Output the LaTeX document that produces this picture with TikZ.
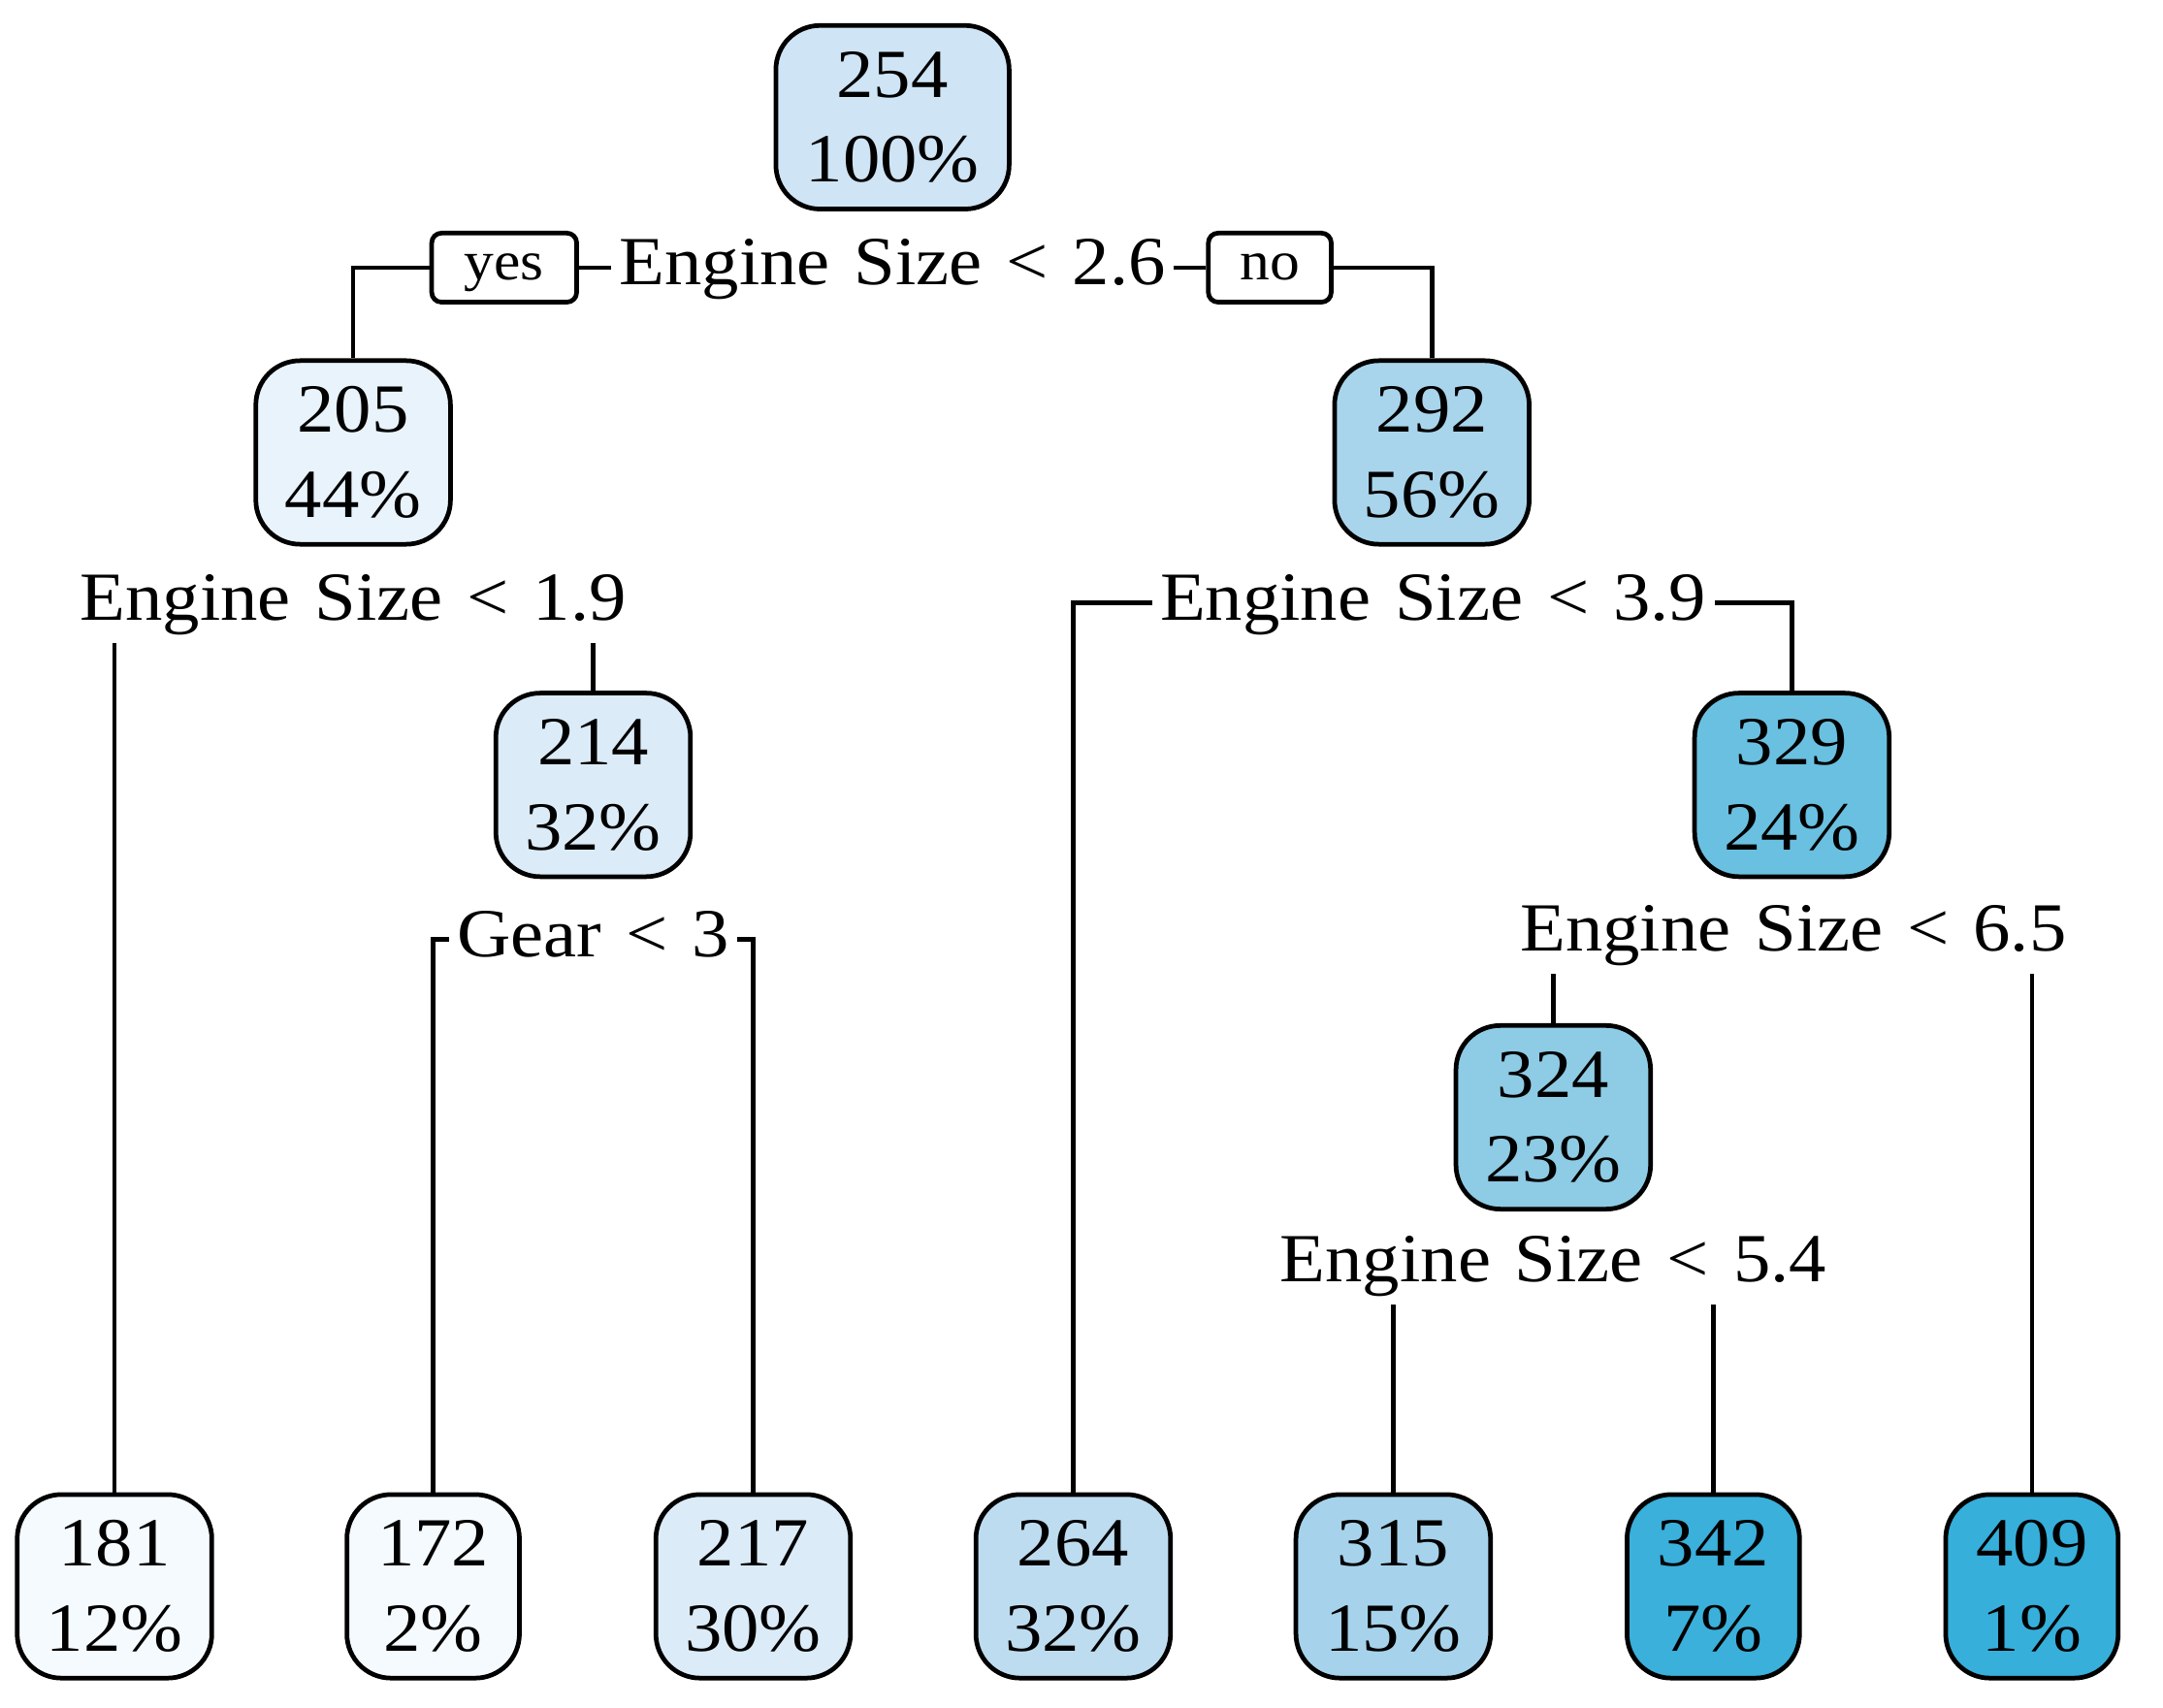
\documentclass[tikz,border=0pt]{standalone}
\usepackage{fontspec}
\setmainfont{Liberation Serif}[FakeStretch=1.08,WordSpace=1.3]
\definecolor{cA}{HTML}{F5FAFE}
\definecolor{cB}{HTML}{E9F3FB}
\definecolor{cC}{HTML}{DBEBF8}
\definecolor{cD}{HTML}{CFE4F5}
\definecolor{cE}{HTML}{BEDCF0}
\definecolor{cF}{HTML}{A9D5EC}
\definecolor{cG}{HTML}{A6D3EB}
\definecolor{cH}{HTML}{8ECBE5}
\definecolor{cI}{HTML}{6AC0E0}
\definecolor{cJ}{HTML}{3AB0DB}
\definecolor{cK}{HTML}{36AFDB}
\begin{document}
\begin{tikzpicture}[x=0.01cm,y=-0.01cm,
  box/.style={draw=black, line width=0.95pt, rounded corners=0.32cm,
    minimum height=1.33cm, minimum width=1.41cm, align=center, inner sep=0pt,
    font=\fontsize{14.2}{17.5}\selectfont},
  narrowbox/.style={box, minimum width=1.25cm},
  widebox/.style={box, minimum width=1.69cm},
  lbl/.style={font=\fontsize{14.2}{17}\selectfont, inner sep=1.5pt,
    text height=10pt, text depth=3pt},
  tag/.style={draw=black, line width=0.95pt, rounded corners=2pt, minimum height=0.5cm,
    font=\fontsize{11.4}{12}\selectfont, inner sep=0pt, text height=6pt, text depth=1pt},
  conn/.style={line width=0.95pt}]
\useasboundingbox (0,0) rectangle (1568,1238);

% nodes
\node[widebox, fill=cD] (n254) at (647,85) {254\\100\%};
\node[box, fill=cB] (n205) at (256,328) {205\\44\%};
\node[box, fill=cF] (n292) at (1038,328) {292\\56\%};
\node[box, fill=cC] (n214) at (430,569) {214\\32\%};
\node[box, fill=cI] (n329) at (1299,569) {329\\24\%};
\node[box, fill=cH] (n324) at (1126,810) {324\\23\%};
\node[box, fill=cA] (n181) at (83,1150) {181\\12\%};
\node[narrowbox, fill=cA] (n172) at (314,1150) {172\\2\%};
\node[box, fill=cC] (n217) at (546,1150) {217\\30\%};
\node[box, fill=cE] (n264) at (778,1150) {264\\32\%};
\node[box, fill=cG] (n315) at (1010,1150) {315\\15\%};
\node[narrowbox, fill=cJ] (n342) at (1242,1150) {342\\7\%};
\node[narrowbox, fill=cK] (n409) at (1473,1150) {409\\1\%};

% split labels
\node[lbl] (s1) at (647,194) {Engine Size < 2.6};
\node[lbl] (s2) at (256,437) {Engine Size < 1.9};
\node[lbl] (s3) at (1039,437) {Engine Size < 3.9};
\node[lbl] (s4) at (430,681) {Gear < 3};
\node[lbl] (s5) at (1300,677) {Engine Size < 6.5};
\node[lbl] (s6) at (1126,917) {Engine Size < 5.4};

% yes / no tags
\node[tag, minimum width=1.05cm] (yes) at (365.5,194) {yes};
\node[tag, minimum width=0.89cm] (no) at (920.5,194) {no};

% connectors
\draw[conn] (s1.west) -- (yes.east);
\draw[conn] (yes.west) -| (n205.north);
\draw[conn] (s1.east) -- (no.west);
\draw[conn] (no.east) -| (n292.north);

\draw[conn] (n181.north) -- (n181.north |- s2.south);
\draw[conn] (n214.north) -- (n214.north |- s2.south);

\draw[conn] (s3.west) -| (n264.north);
\draw[conn] (s3.east) -| (n329.north);

\draw[conn] (s4.west) -| (n172.north);
\draw[conn] (s4.east) -| (n217.north);

\draw[conn] (n324.north) -- (n324.north |- s5.south);
\draw[conn] (n409.north) -- (n409.north |- s5.south);

\draw[conn] (n315.north) -- (n315.north |- s6.south);
\draw[conn] (n342.north) -- (n342.north |- s6.south);
\end{tikzpicture}
\end{document}
